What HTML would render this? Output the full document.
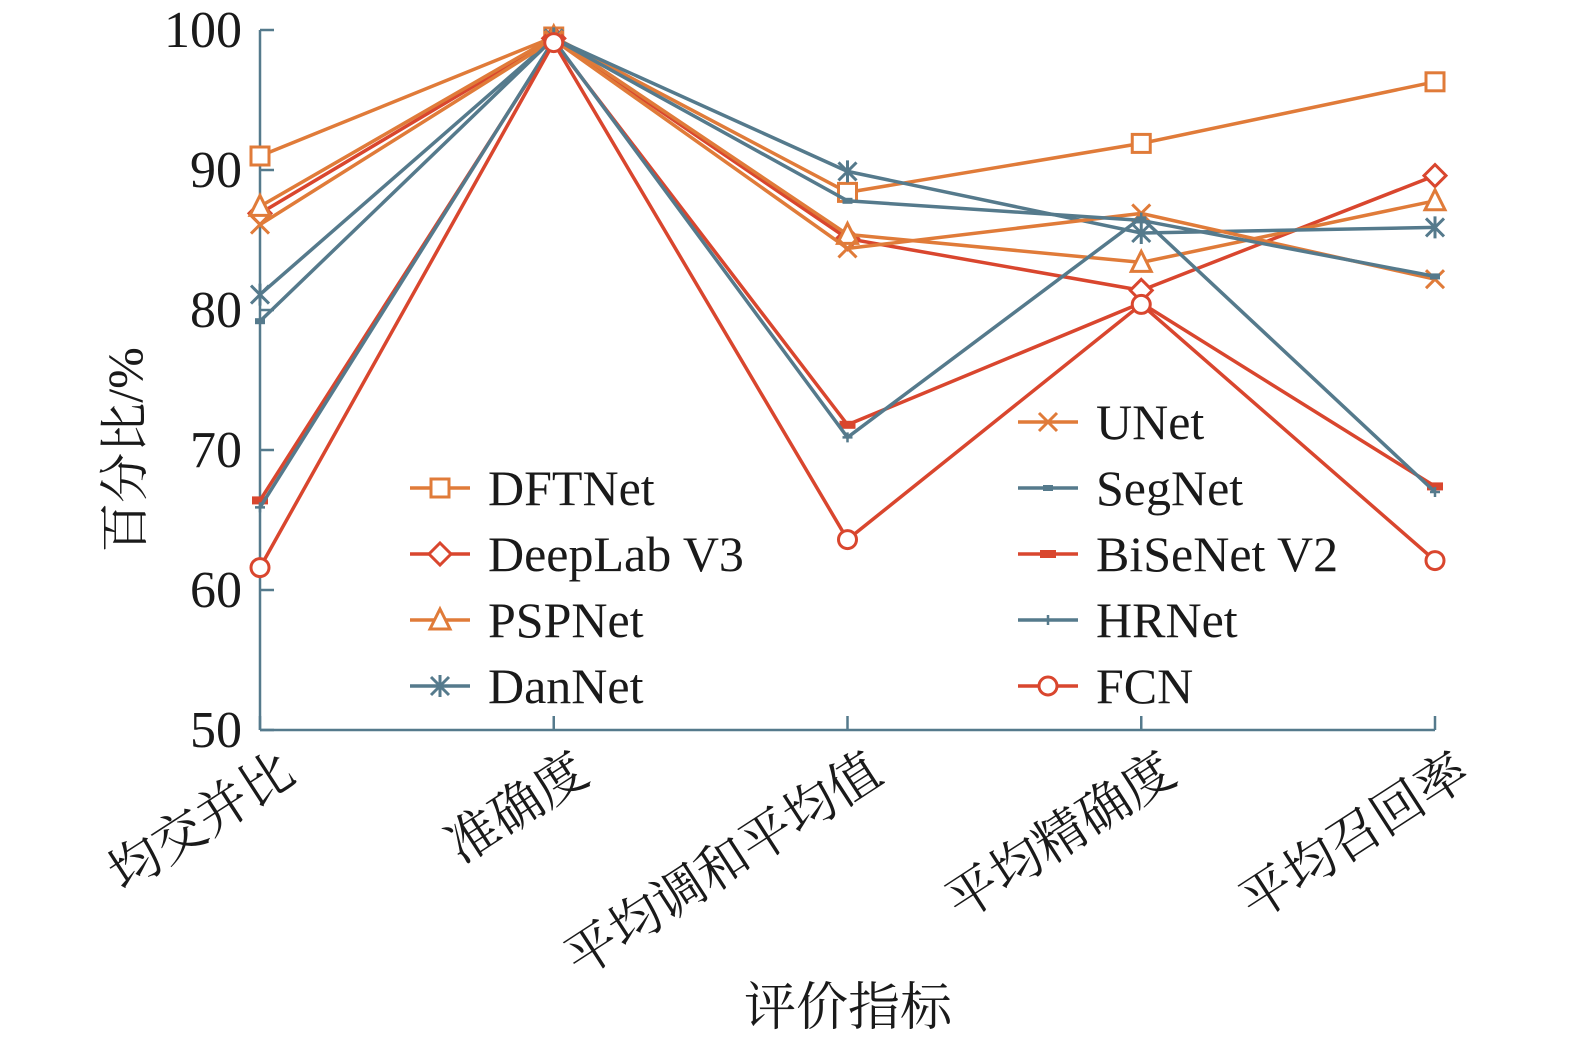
<!DOCTYPE html>
<html><head><meta charset="utf-8"><style>
body{margin:0;background:#fff;}
svg text{font-family:"Liberation Serif","Noto Serif CJK SC",serif;fill:#1a1a1a;}
</style></head><body>
<svg id="chart" width="1575" height="1040" xmlns="http://www.w3.org/2000/svg"></svg>
<script>
const categories=["均交并比","准确度","平均调和平均值","平均精确度","平均召回率"];
const yTicks=[50,60,70,80,90,100];
const seriesNames=["DFTNet","DeepLab V3","PSPNet","DanNet","UNet","SegNet","BiSeNet V2","HRNet","FCN"];
const dftnet=[91.0,99.5,88.4,91.9,96.3];
const deeplab=[86.9,99.4,85.1,81.4,89.6];
const pspnet=[87.4,99.5,85.4,83.4,87.8];
const dannet=[81.1,99.4,89.9,85.5,85.9];
const unet=[86.1,99.3,84.4,86.9,82.2];
const segnet=[79.2,99.4,87.8,86.4,82.4];
const bisenet=[66.4,99.2,71.8,80.5,67.4];
const hrnet=[65.9,99.3,70.9,86.6,67.0];
const fcn=[61.6,99.1,63.6,80.4,62.1];
const OR="#E07B39",RD="#D9462E",BL="#557A8C";
const series=[
 {n:"DFTNet",v:dftnet,c:OR,m:"square"},
 {n:"DeepLab V3",v:deeplab,c:RD,m:"diamond"},
 {n:"PSPNet",v:pspnet,c:OR,m:"triangle"},
 {n:"DanNet",v:dannet,c:BL,m:"star"},
 {n:"UNet",v:unet,c:OR,m:"x"},
 {n:"SegNet",v:segnet,c:BL,m:"dash"},
 {n:"BiSeNet V2",v:bisenet,c:RD,m:"rect"},
 {n:"HRNet",v:hrnet,c:BL,m:"plus"},
 {n:"FCN",v:fcn,c:RD,m:"circle"}];
const NS="http://www.w3.org/2000/svg";
const svg=document.getElementById("chart");
const X0=260,X1=1435,Y0=730,Y1=30;
const xs=i=>X0+i*(X1-X0)/(categories.length-1);
const ys=v=>Y0-(v-50)/50*(Y0-Y1);
function mk(t,a,p){const e=document.createElementNS(NS,t);for(const k in a)e.setAttribute(k,a[k]);(p||svg).appendChild(e);return e;}
const ax=mk("g",{stroke:"#557A8C","stroke-width":2.5,fill:"none"});


mk("line",{x1:X0,y1:Y1,x2:X0,y2:Y0},ax);
mk("line",{x1:X0,y1:Y0,x2:X1,y2:Y0},ax);
yTicks.forEach(t=>{mk("line",{x1:X0,y1:ys(t),x2:X0+14,y2:ys(t)},ax);
 const tx=mk("text",{x:X0-18,y:ys(t)+17,"text-anchor":"end","font-size":52});tx.textContent=t;
 
 });
categories.forEach((c,i)=>{mk("line",{x1:xs(i),y1:Y0,x2:xs(i),y2:Y0-14},ax);
 const tx=mk("text",{x:xs(i)+38,y:Y0+50,"text-anchor":"end","font-size":52,transform:`rotate(-33 ${xs(i)+38} ${Y0+50})`});tx.textContent=c;
 
 });
const yt=mk("text",{x:142,y:450,"text-anchor":"middle","font-size":50,transform:"rotate(-90 142 450)"});yt.textContent="百分比/%";


const xt=mk("text",{x:848,y:1025,"text-anchor":"middle","font-size":52});xt.textContent="评价指标";


function marker(m,x,y,c,g){const s=9;const st={stroke:c,"stroke-width":3,fill:"#fff"};
 if(m=="square")mk("rect",{x:x-s,y:y-s,width:2*s,height:2*s,...st},g);
 else if(m=="diamond")mk("polygon",{points:`${x},${y-s-2} ${x+s+2},${y} ${x},${y+s+2} ${x-s-2},${y}`,...st},g);
 else if(m=="triangle")mk("polygon",{points:`${x},${y-s-2} ${x+s+1},${y+s} ${x-s-1},${y+s}`,...st},g);
 else if(m=="circle")mk("circle",{cx:x,cy:y,r:s,...st},g);
 else if(m=="x"){mk("path",{d:`M${x-s} ${y-s}L${x+s} ${y+s}M${x-s} ${y+s}L${x+s} ${y-s}`,stroke:c,"stroke-width":3},g);}
 else if(m=="star"){mk("path",{d:`M${x-s} ${y-s}L${x+s} ${y+s}M${x-s} ${y+s}L${x+s} ${y-s}M${x} ${y-s-2}L${x} ${y+s+2}`,stroke:c,"stroke-width":3},g);}
 else if(m=="rect")mk("rect",{x:x-8,y:y-4,width:16,height:8,fill:c},g);
 else if(m=="dash")mk("rect",{x:x-5,y:y-3,width:10,height:6,fill:c},g);
 else if(m=="plus")mk("path",{d:`M${x-5} ${y}L${x+5} ${y}M${x} ${y-5}L${x} ${y+5}`,stroke:c,"stroke-width":2.5},g);}
series.forEach(s=>{const g=mk("g",{});
 
 
 mk("polyline",{points:s.v.map((v,i)=>xs(i)+","+ys(v)).join(" "),fill:"none",stroke:s.c,"stroke-width":3.5},g);
 s.v.forEach((v,i)=>marker(s.m,xs(i),ys(v),s.c,g));});
series.forEach((s,k)=>{const col=k<4?0:1;const row=k<4?k+1:k-4;
 const lx=col?1018:410,ly=422+row*66;
 const g=mk("g",{});
 
 
 mk("line",{x1:lx,y1:ly,x2:lx+60,y2:ly,stroke:s.c,"stroke-width":3.5},g);
 marker(s.m,lx+30,ly,s.c,g);
 const t=mk("text",{x:lx+78,y:ly+17,"font-size":50},g);t.textContent=s.n;});
</script>
</body></html>
